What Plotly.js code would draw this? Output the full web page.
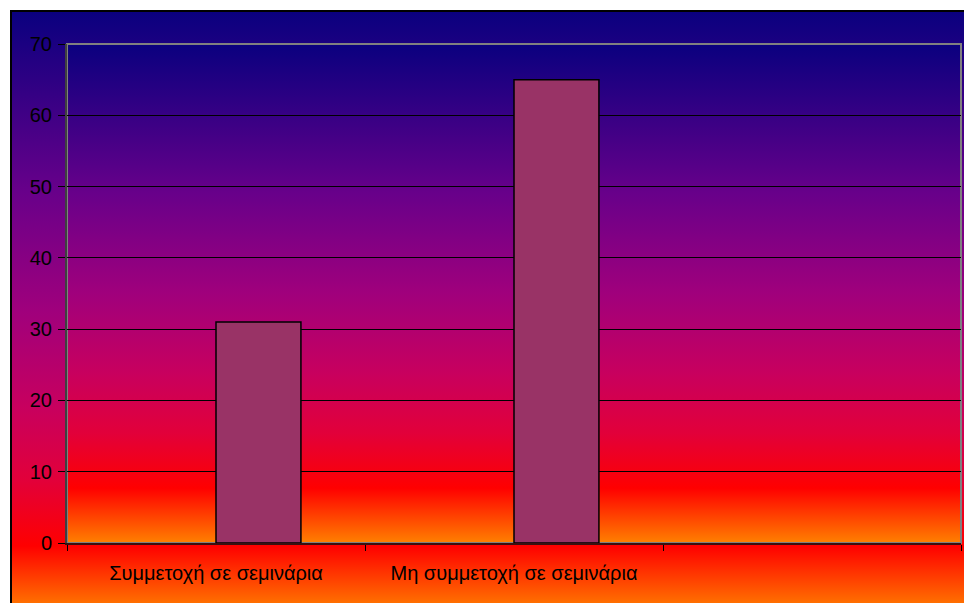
<!DOCTYPE html>
<html>
<head>
<meta charset="utf-8">
<script src="https://cdn.plot.ly/plotly-3.0.1.min.js"></script>
<style>
  html, body { margin: 0; padding: 0; background: #ffffff; }
  #wrap { position: relative; width: 964px; height: 603px; overflow: hidden; }
  #bgbox {
    position: absolute; left: 10px; top: 10px; width: 960px; height: 600px;
    border-left: 2px solid #000; border-top: 2px solid #000;
    background: linear-gradient(to bottom, #0a007f 0%, #68008a 30%, #a0007c 50%, #c8005e 66%, #e2003a 78%, #ff0000 89%, #ff8000 100%);
  }
  #chart { position: absolute; left: 0; top: 0; width: 964px; height: 603px; }
</style>
</head>
<body>
<div id="wrap">
  <div id="bgbox"></div>
  <div id="chart"></div>
</div>
<script>
const categories = ["Συμμετοχή σε σεμινάρια", "Μη συμμετοχή σε σεμινάρια", " "];
const seriesEmpty = [null, null, null];
const seriesValues = [31, 65, null];
const yTicks = [0, 10, 20, 30, 40, 50, 60, 70];

const gradSvg = '<svg xmlns="http://www.w3.org/2000/svg" width="100" height="100" preserveAspectRatio="none" viewBox="0 0 100 100">' +
  '<defs><linearGradient id="g" x1="0" y1="0" x2="0" y2="1">' +
  '<stop offset="0" stop-color="#0a007f"/>' +
  '<stop offset="0.3" stop-color="#68008a"/>' +
  '<stop offset="0.5" stop-color="#a0007c"/>' +
  '<stop offset="0.66" stop-color="#c8005e"/>' +
  '<stop offset="0.78" stop-color="#e2003a"/>' +
  '<stop offset="0.89" stop-color="#ff0000"/>' +
  '<stop offset="1" stop-color="#ff8000"/>' +
  '</linearGradient></defs><rect x="0" y="0" width="100" height="100" fill="url(#g)"/></svg>';
const gradUri = 'data:image/svg+xml;charset=utf-8,' + encodeURIComponent(gradSvg);

const traces = [
  {
    type: 'bar', x: categories, y: seriesEmpty, name: 'A',
    marker: { color: '#9999ff', line: { color: '#000', width: 1.5 } },
    hoverinfo: 'skip'
  },
  {
    type: 'bar', x: categories, y: seriesValues, name: 'B',
    marker: { color: '#993366', line: { color: '#000', width: 1.5 } }
  }
];

const layout = {
  width: 964, height: 603,
  margin: { l: 67, r: 3, t: 44, b: 60 },
  paper_bgcolor: 'rgba(0,0,0,0)',
  plot_bgcolor: 'rgba(0,0,0,0)',
  showlegend: false,
  barmode: 'group',
  bargap: 0.43,
  bargroupgap: 0,
  font: { family: 'Liberation Sans, Arial, sans-serif', size: 20, color: '#000' },
  xaxis: {
    type: 'category',
    categoryorder: 'array', categoryarray: categories,
    tickson: 'boundaries',
    ticks: 'outside', ticklen: 6, tickcolor: '#000', tickwidth: 1,
    showgrid: false,
    showline: true, linecolor: '#3a1010', linewidth: 2,
    ticklabelstandoff: 11,
    tickfont: { size: 20 },
    fixedrange: true
  },
  yaxis: {
    range: [0, 70],
    tickvals: yTicks,
    ticks: 'outside', ticklen: 7, tickcolor: '#000', tickwidth: 1,
    showgrid: true, gridcolor: '#000', gridwidth: 1,
    zeroline: false,
    showline: true, linecolor: '#404040', linewidth: 2,
    ticklabelstandoff: 2,
    tickfont: { size: 20 },
    fixedrange: true
  },
  images: [{
    source: gradUri, xref: 'paper', yref: 'paper',
    x: 0, y: 1, sizex: 1, sizey: 1,
    xanchor: 'left', yanchor: 'top',
    sizing: 'stretch', layer: 'below'
  }],
  shapes: [{
    type: 'rect', xref: 'paper', yref: 'paper', x0: 0, x1: 1, y0: 0, y1: 1,
    line: { color: '#808080', width: 2 }, fillcolor: 'rgba(0,0,0,0)', layer: 'below'
  }]
};

Plotly.newPlot('chart', traces, layout, { displayModeBar: false, staticPlot: true });
</script>
</body>
</html>
